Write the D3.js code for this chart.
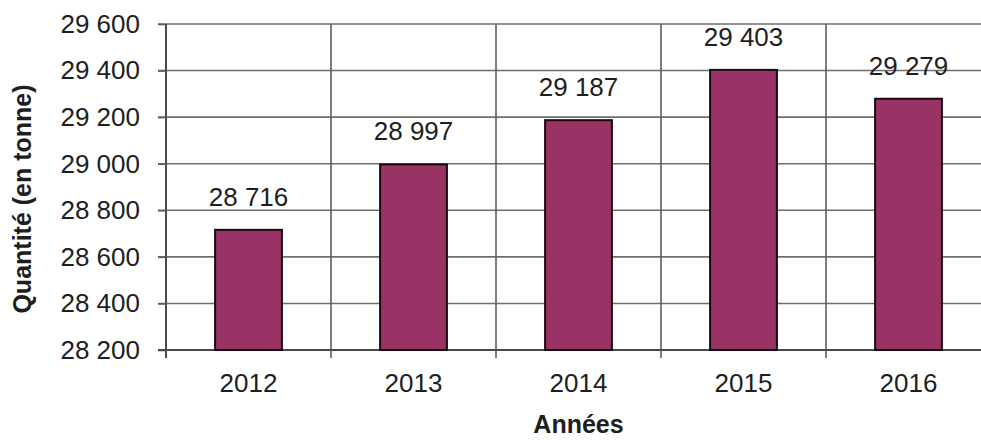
<!DOCTYPE html>
<html>
<head>
<meta charset="utf-8">
<script src="https://cdn.jsdelivr.net/npm/d3@7"></script>
<style>
  html, body { margin: 0; padding: 0; background: #fff; }
  svg { display: block; font-family: "Liberation Sans", Arial, sans-serif; }
</style>
</head>
<body>
<div id="root"></div>
<script>
// données
const years = ['2012', '2013', '2014', '2015', '2016'];
const quantities = [28716, 28997, 29187, 29403, 29279];
const yTickValues = [28200, 28400, 28600, 28800, 29000, 29200, 29400, 29600];

const width = 981, height = 440;
const plot = { left: 166, right: 991, top: 24, bottom: 350 };

const fmt = v => d3.format(',')(v).replace(/,/g, ' ');

const svg = d3.select('#root').append('svg')
    .attr('width', width)
    .attr('height', height);

const x = d3.scaleBand()
    .domain(years)
    .range([plot.left, plot.right])
    .paddingInner(0.595)
    .paddingOuter(0.2975);

const y = d3.scaleLinear()
    .domain([28200, 29600])
    .range([plot.bottom, plot.top]);

const step = x.step();
const bounds = d3.range(years.length + 1).map(i => plot.left + i * step);

// grille horizontale
svg.append('g')
    .selectAll('line')
    .data(yTickValues)
    .join('line')
    .attr('x1', plot.left - 8)
    .attr('x2', plot.right)
    .attr('y1', d => y(d))
    .attr('y2', d => y(d))
    .attr('stroke', '#6e6e6e')
    .attr('stroke-width', 1.6);

// grille verticale (limites des catégories)
svg.append('g')
    .selectAll('line')
    .data(bounds.slice(1))
    .join('line')
    .attr('x1', d => d)
    .attr('x2', d => d)
    .attr('y1', plot.top)
    .attr('y2', plot.bottom + 8)
    .attr('stroke', '#5e5e5e')
    .attr('stroke-width', 1.6);

// axe Y
const gy = svg.append('g')
    .attr('transform', `translate(${plot.left},0)`)
    .call(d3.axisLeft(y).tickValues(yTickValues).tickFormat(fmt).tickSize(8).tickPadding(18));
gy.select('.domain').attr('stroke', '#4a4a4a').attr('stroke-width', 2).attr('d', `M0,${plot.top}V${plot.bottom + 8}`);
gy.selectAll('.tick line').attr('stroke', '#5e5e5e').attr('stroke-width', 1.6);
gy.selectAll('.tick text')
    .attr('font-size', 26)
    .attr('font-family', '"Liberation Sans", Arial, sans-serif')
    .attr('fill', '#1e1e1e');

// axe X
const gx = svg.append('g')
    .attr('transform', `translate(0,${plot.bottom})`)
    .call(d3.axisBottom(x).tickSize(0).tickPadding(24));
gx.select('.domain').attr('stroke', '#4a4a4a').attr('stroke-width', 2).attr('d', `M${plot.left - 8},0H${plot.right}`);
gx.selectAll('.tick text')
    .attr('font-size', 26)
    .attr('font-family', '"Liberation Sans", Arial, sans-serif')
    .attr('fill', '#1e1e1e');

// barres
svg.append('g')
    .selectAll('rect')
    .data(quantities)
    .join('rect')
    .attr('x', (d, i) => x(years[i]))
    .attr('y', d => y(d))
    .attr('width', x.bandwidth())
    .attr('height', d => y(28200) - y(d))
    .attr('fill', '#993366')
    .attr('stroke', '#1a0a10')
    .attr('stroke-width', 2);

// étiquettes de valeurs
svg.append('g')
    .selectAll('text')
    .data(quantities)
    .join('text')
    .attr('x', (d, i) => x(years[i]) + x.bandwidth() / 2)
    .attr('y', d => y(d) - 24)
    .attr('text-anchor', 'middle')
    .attr('font-size', 26)
    .attr('fill', '#1e1e1e')
    .text(d => fmt(d));

// titres des axes
svg.append('text')
    .attr('x', (plot.left + plot.right) / 2)
    .attr('y', 433)
    .attr('text-anchor', 'middle')
    .attr('font-size', 25)
    .attr('font-weight', 700)
    .attr('fill', '#1e1e1e')
    .text('Années');

svg.append('text')
    .attr('transform', `translate(31,${(plot.top + plot.bottom) / 2 + 12}) rotate(-90)`)
    .attr('text-anchor', 'middle')
    .attr('font-size', 25)
    .attr('font-weight', 700)
    .attr('fill', '#1e1e1e')
    .text('Quantité (en tonne)');
</script>
</body>
</html>
